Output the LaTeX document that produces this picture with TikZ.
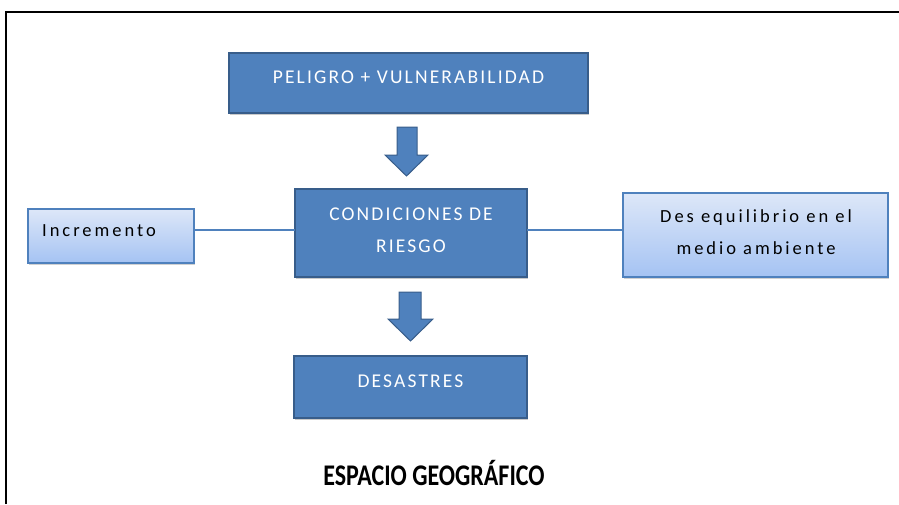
\documentclass[tikz,border=0pt]{standalone}
\usepackage{fontspec}
\setmainfont{Carlito}
\newfontfamily\boxfont[LetterSpace=11]{Carlito}
\newfontfamily\ltfont[LetterSpace=16]{Carlito}
\newfontfamily\titlefont[FakeStretch=0.8]{Carlito}
\usetikzlibrary{shadows}
\definecolor{dkblue}{HTML}{4F81BD}
\definecolor{dkborder}{HTML}{385D8A}
\definecolor{ltop}{HTML}{DDE7F8}
\definecolor{lbot}{HTML}{A5C3F3}
\begin{document}
\begin{tikzpicture}[x=1pt,y=-1pt,
  darkbox/.style={draw=dkborder, line width=1.8pt, fill=dkblue,
    drop shadow={shadow xshift=1pt, shadow yshift=-2pt, opacity=0.35, fill=black!60}},
  lightbox/.style={draw=dkblue, line width=1.2pt, top color=ltop, bottom color=lbot,
    drop shadow={shadow xshift=1pt, shadow yshift=-2pt, opacity=0.3, fill=black!60}},
  darktext/.style={text=white, font=\boxfont\fontsize{19.5}{32}\selectfont, align=center, inner sep=0pt},
  lighttext/.style={text=black, font=\ltfont\fontsize{18.5}{32}\selectfont, align=center, inner sep=0pt},
  link/.style={draw=dkblue, line width=1.3pt},
  blockarrow/.style={fill=dkblue, draw=dkborder, line width=1pt}
]
\useasboundingbox (0,0) rectangle (899,504);
% frame
\draw[line width=1.8pt] (6,504) -- (6,12) -- (899,12);

% boxes
\path[darkbox] (229,53) rectangle (588,113);
\node[darktext] (peligro) at (408.5,77) {PELIGRO + VULNERABILIDAD};

\path[darkbox] (295,189) rectangle (527,277);
\node[darktext] (cond) at (411,230) {CONDICIONES DE\\RIESGO};
\coordinate (condW) at (295,230);
\coordinate (condE) at (527,230);

\path[darkbox] (294,356) rectangle (527,418);
\node[darktext] (des) at (410.5,381) {DESASTRES};

\path[lightbox] (28,209) rectangle (194,263);
\node[lighttext, anchor=west] (inc) at (42,231) {Incremento};
\coordinate (incE) at (194,230);

\path[lightbox] (623,193) rectangle (888,277);
\node[lighttext] (deseq) at (756,232) {Des equilibrio en el\\medio ambiente};
\coordinate (deseqW) at (623,230);

% connectors
\draw[link] (incE) -- (condW);
\draw[link] (condE) -- (deseqW);

% block arrows
\draw[blockarrow] (397,127) -- (417,127) -- (417,155) -- (428,155) -- (406.5,176) -- (385,155) -- (397,155) -- cycle;
\draw[blockarrow] (399,292) -- (421,292) -- (421,319) -- (433,319) -- (410.5,341) -- (388,319) -- (399,319) -- cycle;

% title
\node[font=\titlefont\bfseries\fontsize{30}{32}\selectfont, inner sep=0pt] (esp) at (434,473) {ESPACIO GEOGRÁFICO};
\end{tikzpicture}
\end{document}
